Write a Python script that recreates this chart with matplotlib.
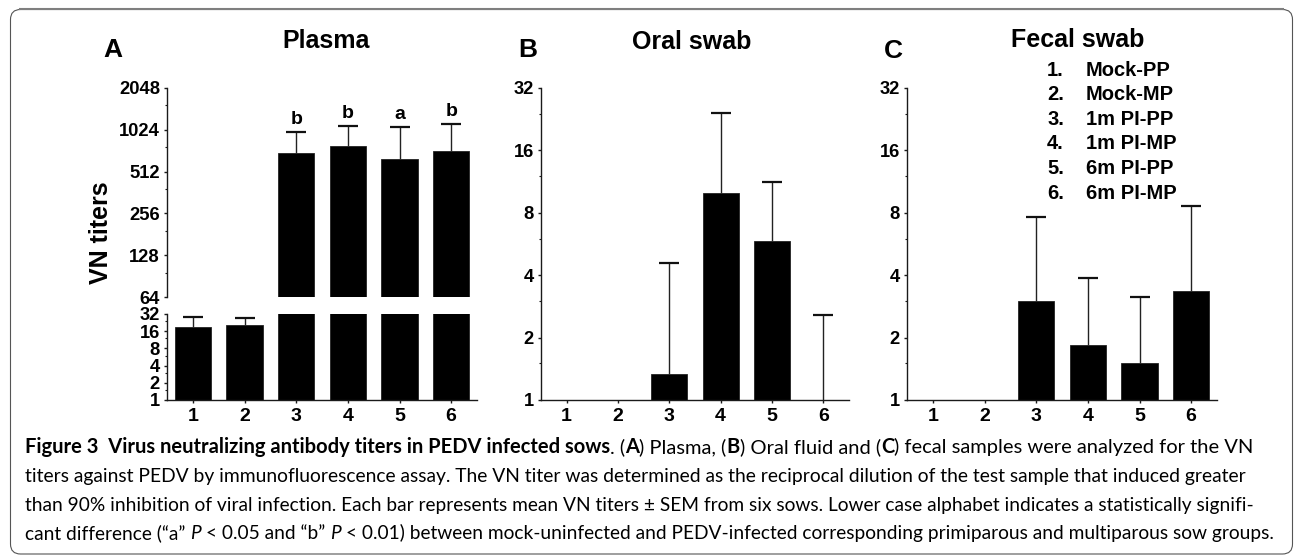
import matplotlib
matplotlib.use('Agg')
import matplotlib.pyplot as plt
import numpy as np
from matplotlib.ticker import FixedLocator, FixedFormatter, NullFormatter
from matplotlib.patches import FancyBboxPatch
from matplotlib.transforms import IdentityTransform
from matplotlib.lines import Line2D
from matplotlib import font_manager

# ---------------- data ----------------
groups = ['1', '2', '3', '4', '5', '6']
legend_labels = ['Mock-PP', 'Mock-MP', '1m PI-PP', '1m PI-MP', '6m PI-PP', '6m PI-MP']

plasma_mean = [19, 20.5, 694, 783, 630, 719]
plasma_err_top = [28, 27, 990, 1090, 1072, 1130]
plasma_sig = ['', '', 'b', 'b', 'a', 'b']

oral_mean = [1, 1, 1.33, 10.0, 5.85, 1]
oral_err_top = [np.nan, np.nan, 4.58, 24.3, 11.3, 2.57]

fecal_mean = [1, 1, 3.0, 1.84, 1.5, 3.36]
fecal_err_top = [np.nan, np.nan, 7.6, 3.88, 3.15, 8.6]

plasma_upper_ticks = [64, 128, 256, 512, 1024, 2048]
low_ticks = [1, 2, 4, 8, 16, 32]

# ---------------- figure ----------------
plt.rcParams['font.family'] = ['Liberation Sans', 'DejaVu Sans']
W, H, DPI = 1295, 556, 100
fig = plt.figure(figsize=(W / DPI, H / DPI), dpi=DPI)
fig.patch.set_facecolor('white')


def rect(l, t, r, b):
    return [l / W, 1 - b / H, (r - l) / W, (b - t) / H]


def ftext(x, y, s, **kw):
    return fig.text(x / W, 1 - y / H, s, **kw)


SPINE = '#1a1a1a'
x = np.arange(1, len(groups) + 1)


def style(ax, majors, ylim, bottom=True, xlabels=True):
    ax.set_yscale('log', base=2)
    ax.set_ylim(ylim)
    ax.set_xlim(0.5, 6.5)
    ax.yaxis.set_major_locator(FixedLocator(majors))
    ax.yaxis.set_major_formatter(FixedFormatter([str(m) for m in majors]))
    ax.yaxis.set_minor_locator(FixedLocator([1.5 * m for m in majors[:-1]]))
    ax.yaxis.set_minor_formatter(NullFormatter())
    for s in ['top', 'right']:
        ax.spines[s].set_visible(False)
    ax.spines['left'].set_color(SPINE)
    ax.spines['left'].set_linewidth(1.0)
    ax.spines['bottom'].set_color(SPINE)
    ax.spines['bottom'].set_linewidth(1.0)
    if not bottom:
        ax.spines['bottom'].set_visible(False)
    ax.tick_params(axis='y', which='major', length=2.5, width=1.0, pad=2.5,
                   labelsize=13.2, color=SPINE)
    ax.tick_params(axis='y', which='minor', length=1.5, width=0.8, color=SPINE)
    for lab in ax.get_yticklabels():
        lab.set_fontweight('bold')
    if xlabels:
        ax.set_xticks(x)
        ax.set_xticklabels(groups, fontsize=14, fontweight='bold')
        ax.tick_params(axis='x', length=2.5, width=1.0, pad=3.5, color=SPINE)
    else:
        ax.set_xticks([])
    ax.patch.set_alpha(0)


def draw_bars(ax, mean, top):
    mean = np.asarray(mean, float)
    top = np.asarray(top, float)
    ax.bar(x, mean - 1, bottom=1, width=0.7, color='black',
           edgecolor='#222222', linewidth=0.6, zorder=2)
    ok = ~np.isnan(top)
    ax.vlines(x[ok], mean[ok], top[ok], color='#222222', lw=1.0, zorder=3)
    ax.plot(x[ok], top[ok], linestyle='none', marker='_', markersize=14,
            mew=1.6, color='#111111', zorder=3)


axA_top = fig.add_axes(rect(167, 88, 477, 297))
axA_bot = fig.add_axes(rect(167, 314, 477, 400))
axB = fig.add_axes(rect(541, 88, 849, 400))
axC = fig.add_axes(rect(907, 88, 1217, 400))

draw_bars(axA_top, plasma_mean, plasma_err_top)
draw_bars(axA_bot, plasma_mean, plasma_err_top)
draw_bars(axB, oral_mean, oral_err_top)
draw_bars(axC, fecal_mean, fecal_err_top)

style(axA_top, plasma_upper_ticks, (64, 2048), bottom=False, xlabels=False)
style(axA_bot, low_ticks, (1, 32))
style(axB, low_ticks, (1, 32))
style(axC, low_ticks, (1, 32))

for xi, t, s in zip(x, plasma_err_top, plasma_sig):
    if s:
        axA_top.annotate(s, (xi, t), xytext=(0, 5.5), textcoords='offset points',
                         ha='center', va='baseline', fontsize=14, fontweight='bold')

# titles, panel letters
ftext(326, 41, 'Plasma', fontsize=18, fontweight='bold', ha='center', va='center')
ftext(692, 42, 'Oral swab', fontsize=18, fontweight='bold', ha='center', va='center')
ftext(1078, 40, 'Fecal swab', fontsize=18, fontweight='bold', ha='center', va='center')
ftext(113, 50, 'A', fontsize=19, fontweight='bold', ha='center', va='center')
ftext(528, 50, 'B', fontsize=19, fontweight='bold', ha='center', va='center')
ftext(893, 51, 'C', fontsize=19, fontweight='bold', ha='center', va='center')
ftext(101, 233, 'VN titers', fontsize=18, fontweight='bold', rotation=90,
      ha='center', va='center')

# legend list in panel C
for i, (g, lab) in enumerate(zip(groups, legend_labels)):
    yy = 70 + i * 24.6
    ftext(1047, yy, g + '.', fontsize=14.5, fontweight='bold', ha='left', va='center')
    ftext(1086, yy, lab, fontsize=14.5, fontweight='bold', ha='left', va='center')

# frame
box = FancyBboxPatch((10.5, H - 554), 1282, 544.5,
                     boxstyle='round,pad=0,rounding_size=10',
                     transform=IdentityTransform(), fill=False,
                     edgecolor='#555555', lw=0.8)
fig.add_artist(box)
fig.add_artist(Line2D([20, 1283], [H - 9, H - 9], transform=IdentityTransform(),
                      color='#7f7f7f', lw=1.5))

# caption
available = {f.name for f in font_manager.fontManager.ttflist}
cap_family = next((f for f in ['Lato', 'Open Sans', 'Noto Sans', 'DejaVu Sans']
                   if f in available), 'DejaVu Sans')

caption_lines = [
    [("Figure 3  Virus neutralizing antibody titers in PEDV infected sows", 'bold', 'normal', False),
     (". (", 'normal', 'normal', False), ("A", 'bold', 'normal', False),
     (") Plasma, (", 'normal', 'normal', False), ("B", 'bold', 'normal', False),
     (") Oral fluid and (", 'normal', 'normal', False), ("C", 'bold', 'normal', False),
     (") fecal samples were analyzed for the VN", 'normal', 'normal', False)],
    [("titers against PEDV by immunofluorescence assay. The VN titer was determined as the "
      "reciprocal dilution of the test sample that induced greater", 'normal', 'normal', False)],
    [("than 90% inhibition of viral infection. Each bar represents mean VN titers \u00b1 SEM from "
      "six sows. Lower case alphabet indicates a statistically signifi-", 'normal', 'normal', False)],
    [("cant difference (\u201ca\u201d", 'normal', 'normal', False), ("P", 'normal', 'italic', True),
     ("< 0.05 and \u201cb\u201d", 'normal', 'normal', True), ("P", 'normal', 'italic', True),
     ("< 0.01) between mock-uninfected and PEDV-infected corresponding primiparous and "
      "multiparous sow groups.", 'normal', 'normal', True)],
]
cap_baselines = [453, 482, 511, 539]
cap_right = [1252, 1252, 1252, 1278]
cap_left = 25

fig.canvas.draw()
renderer = fig.canvas.get_renderer()


def measure(s, size, weight, style_):
    t = fig.text(0, 0, s, fontsize=size, fontweight=weight, fontstyle=style_,
                 family=[cap_family, 'DejaVu Sans'])
    w = t.get_window_extent(renderer).width
    t.remove()
    return w


def line_width(segs, size):
    sp = measure('n n', size, 'normal', 'normal') - measure('nn', size, 'normal', 'normal')
    total = 0
    for s, wgt, st, gap in segs:
        if gap:
            total += sp
        total += measure(s, size, wgt, st)
    return total, sp


for segs, base, right in zip(caption_lines, cap_baselines, cap_right):
    target = right - cap_left
    size = 12.0
    for _ in range(3):
        tw, _sp = line_width(segs, size)
        size = size * target / tw
    tw, sp = line_width(segs, size)
    xx = cap_left
    for s, wgt, st, gap in segs:
        if gap:
            xx += sp
        fig.text(xx / W, 1 - base / H, s, fontsize=size, fontweight=wgt, fontstyle=st,
                 family=[cap_family, 'DejaVu Sans'], ha='left', va='baseline')
        xx += measure(s, size, wgt, st)

fig.savefig('out.png', dpi=DPI)
